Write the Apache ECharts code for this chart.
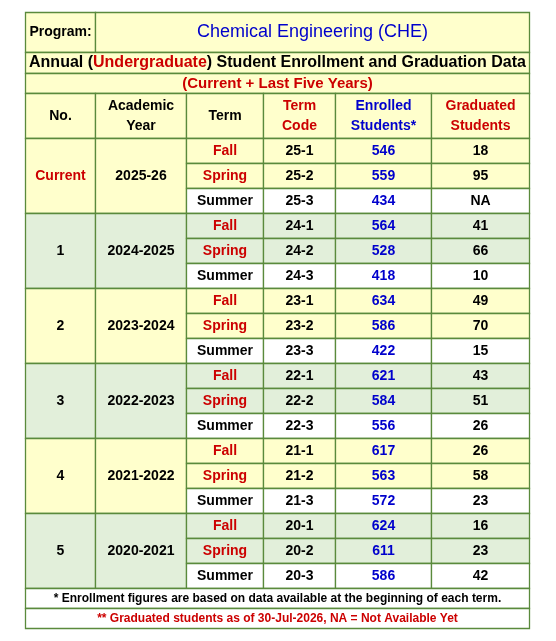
<!DOCTYPE html><html><head><meta charset="utf-8"><script src="https://cdn.jsdelivr.net/npm/echarts@6/dist/echarts.min.js"></script>
<style>html,body{margin:0;padding:0;background:#fff}#c{width:556px;height:641px}</style></head><body><div id="c"></div>
<script>
const programName = "Chemical Engineering (CHE)";
const groupLabels = ["Current","1","2","3","4","5"];
const academicYears = ["2025-26","2024-2025","2023-2024","2022-2023","2021-2022","2020-2021"];
const terms = ["Fall","Spring","Summer"];
const termCodes = ["25-1","25-2","25-3","24-1","24-2","24-3","23-1","23-2","23-3","22-1","22-2","22-3","21-1","21-2","21-3","20-1","20-2","20-3"];
const enrolled = [546,559,434,564,528,418,634,586,422,621,584,556,617,563,572,624,611,586];
const graduated = ["18","95","NA","41","66","10","49","70","15","43","51","26","26","58","23","16","23","42"];
const headers = ["No.","Academic\nYear","Term","Term\nCode","Enrolled\nStudents*","Graduated\nStudents"];

const X=[25.5,95.5,186.5,263.5,335.5,431.5,529.5];
const Y0=12.5, Y1=52.5, Y2=73.5, Y3=93.5, YH=138.5, RH=25;
const FONT='"Liberation Sans", Arial, sans-serif';
const YEL='#ffffcc', GRN='#e2efda', BD='#5a8a3c', RED='#cc0000', BLUE='#0000cc';
const els=[];
function cell(x1,y1,x2,y2,fill){els.push({type:'rect',shape:{x:x1,y:y1,width:x2-x1,height:y2-y1},style:{fill:fill,stroke:BD,lineWidth:1.3}});}
function txt(x,y,t,color,size,bold,align){els.push({type:'text',x:x,y:y,style:{text:t,fill:color,font:(bold?'bold ':'')+size+'px '+FONT,align:align||'center',verticalAlign:'middle',lineHeight:size+6}});}

cell(X[0],Y0,X[1],Y1,YEL); txt((X[0]+X[1])/2,(Y0+Y1)/2,"Program:",'#000',14,true);
cell(X[1],Y0,X[6],Y1,YEL); txt((X[1]+X[6])/2,(Y0+Y1)/2,programName,BLUE,18,false);
cell(X[0],Y1,X[6],Y2,YEL);
els.push({type:'text',x:(X[0]+X[6])/2,y:(Y1+Y2)/2,style:{text:'{k|Annual (}{r|Undergraduate}{k|) Student Enrollment and Graduation Data}',align:'center',verticalAlign:'middle',rich:{k:{fill:'#000',font:'bold 16px '+FONT},r:{fill:RED,font:'bold 16px '+FONT}}}});
cell(X[0],Y2,X[6],Y3,YEL); txt((X[0]+X[6])/2,(Y2+Y3)/2,"(Current + Last Five Years)",RED,15,true);
const hColors=['#000','#000','#000',RED,BLUE,RED];
headers.forEach((h,i)=>{cell(X[i],Y3,X[i+1],YH,YEL);txt((X[i]+X[i+1])/2,(Y3+YH)/2,h,hColors[i],14,true);});
groupLabels.forEach((g,gi)=>{
  const bg=gi%2===0?YEL:GRN, gy=YH+gi*3*RH;
  cell(X[0],gy,X[1],gy+3*RH,bg); txt((X[0]+X[1])/2,gy+1.5*RH,g,gi===0?RED:'#000',14,true);
  cell(X[1],gy,X[2],gy+3*RH,bg); txt((X[1]+X[2])/2,gy+1.5*RH,academicYears[gi],'#000',14,true);
  terms.forEach((t,ti)=>{
    const r=gi*3+ti, y=gy+ti*RH, f=ti===2?'#ffffff':bg, cy=y+RH/2;
    cell(X[2],y,X[3],y+RH,f); txt((X[2]+X[3])/2,cy,t,ti===2?'#000':RED,14,true);
    cell(X[3],y,X[4],y+RH,f); txt((X[3]+X[4])/2,cy,termCodes[r],'#000',14,true);
    cell(X[4],y,X[5],y+RH,f); txt((X[4]+X[5])/2,cy,String(enrolled[r]),BLUE,14,true);
    cell(X[5],y,X[6],y+RH,f); txt((X[5]+X[6])/2,cy,graduated[r],'#000',14,true);
  });
});
const F0=YH+18*RH;
cell(X[0],F0,X[6],F0+20,'#fff'); txt((X[0]+X[6])/2,F0+10,"* Enrollment figures are based on data available at the beginning of each term.",'#000',12,true);
cell(X[0],F0+20,X[6],F0+40,'#fff'); txt((X[0]+X[6])/2,F0+30,"** Graduated students as of 30-Jul-2026, NA = Not Available Yet",RED,12,true);

const chart=echarts.init(document.getElementById('c'));
chart.setOption({animation:false,graphic:{elements:els}});
</script></body></html>
